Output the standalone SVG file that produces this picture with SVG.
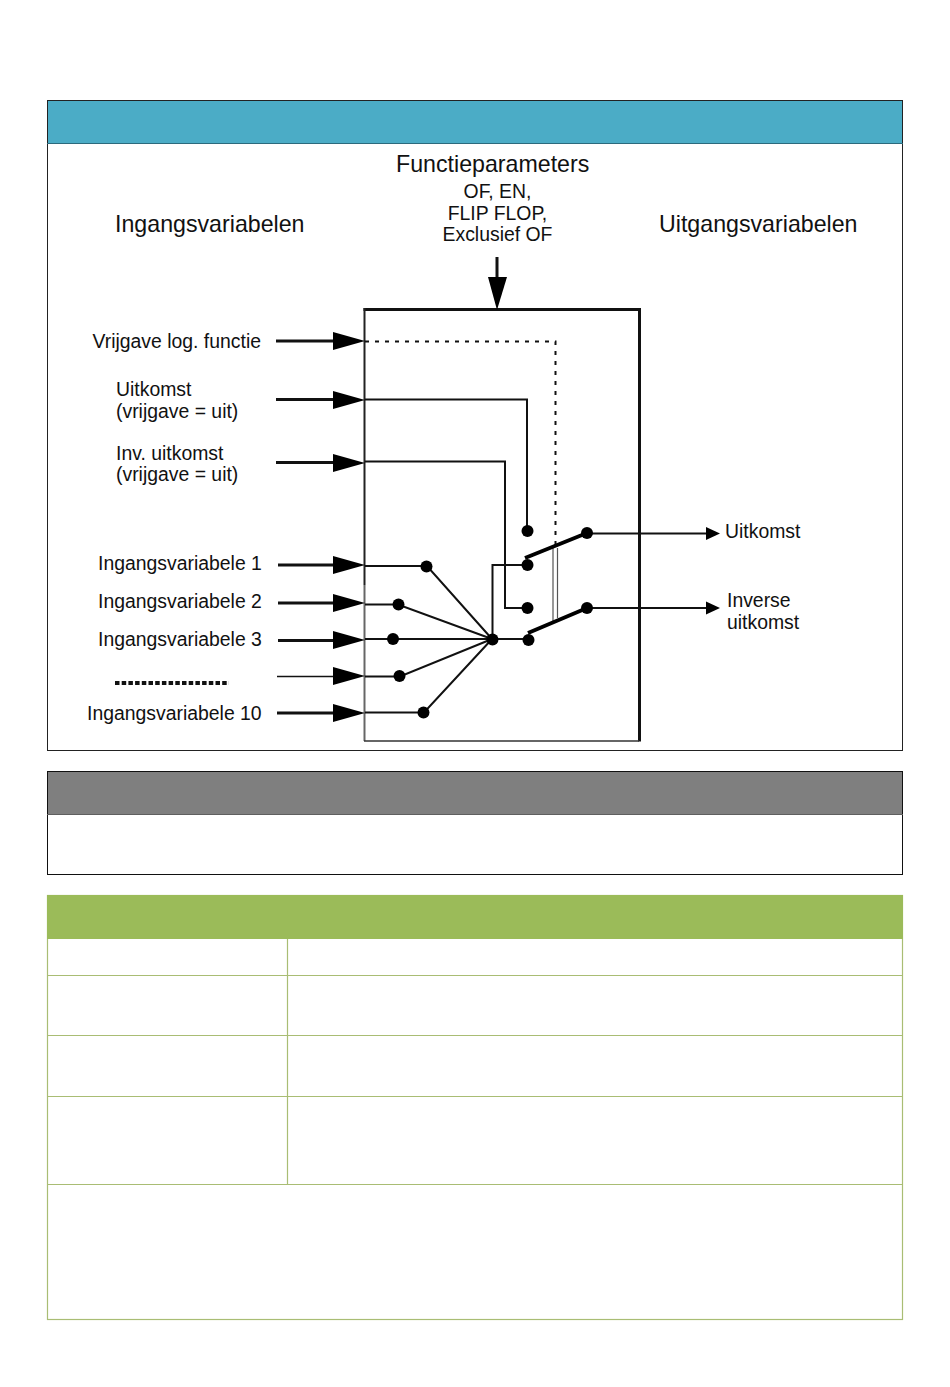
<svg xmlns="http://www.w3.org/2000/svg" width="950" height="1387" viewBox="0 0 950 1387">
<style>
text{font-family:"Liberation Sans",Arial,sans-serif;fill:#111}
.h{font-size:23.2px}.s{font-size:19.4px}
.w{fill:none;stroke:#111;stroke-width:2}
.in{fill:none;stroke:#111;stroke-width:3}
.g{stroke:#a9bd74;stroke-width:1.2;fill:none}
.d{fill:#000}
</style>
<defs>
<path id="ah" d="M-32,-9 L0,0 L-32,9 Z" fill="#000"/>
<circle id="dot" r="6" fill="#000"/>
</defs>
<rect width="950" height="1387" fill="#fff"/>
<g id="panel-top">
<rect x="47.500" y="100.500" width="855" height="650" fill="#fff" stroke="#222" stroke-width="1"/>
<rect x="48" y="101" width="854" height="42" fill="#4bacc6"/>
<line x1="47" y1="143.500" x2="903" y2="143.500" stroke="#2c6a7c" stroke-width="1.200"/>
</g>
<g id="panel-grey">
<rect x="47.500" y="771.500" width="855" height="103" fill="#fff" stroke="#111" stroke-width="1"/>
<rect x="48" y="772" width="854" height="42" fill="#7f7f7f"/>
<line x1="47" y1="814.500" x2="903" y2="814.500" stroke="#5f5f5f"/>
</g>
<g id="panel-green">
<rect x="47.500" y="895.500" width="855" height="424" fill="#fff" class="g"/>
<rect x="47" y="895" width="856" height="44" fill="#9bbb59"/>
<path class="g" d="M47.500,975.500H902.500M47.500,1035.500H902.500M47.500,1096.500H902.500M47.500,1184.500H902.500M287.500,939V1184.500"/>
</g>
<g id="block">
<path d="M363.500,309.500H639.500V741.500" fill="none" stroke="#111" stroke-width="3"/>
<path d="M364.500,308V585" fill="none" stroke="#222" stroke-width="2"/>
<path d="M364.500,585V741" fill="none" stroke="#666" stroke-width="2"/>
<path d="M364,741H639" fill="none" stroke="#333" stroke-width="1.500"/>
</g>
<g id="connectors">
<path class="in" d="M276,341H340M276,399.500H340M276,462.500H340M278,565H340M278,603H340M278,640.500H340M277,713H340"/>
<path d="M277,676.500H340" fill="none" stroke="#111" stroke-width="1.500"/>
<path d="M497,257V282" class="in"/>
<use href="#ah" x="365" y="341"/><use href="#ah" x="365" y="400"/><use href="#ah" x="365" y="463"/>
<use href="#ah" x="365" y="565"/><use href="#ah" x="365" y="603"/><use href="#ah" x="365" y="640"/>
<use href="#ah" x="365" y="676"/><use href="#ah" x="365" y="713"/>
<path d="M488,277L497,310L507,277Z" fill="#000"/>
<path d="M365,341.500H555.500V545" fill="none" stroke="#111" stroke-width="2" stroke-dasharray="4 6"/>
<path class="w" d="M365,399.500H527V531"/>
<path class="w" d="M365,461.500H505V608H528"/>
<path class="w" d="M365,566H427L492,639"/>
<path class="w" d="M365,604.500H398L492,639"/>
<path class="w" d="M365,639H492"/>
<path class="w" d="M365,676.500H400L492,639"/>
<path class="w" d="M365,712.500H424L492,639"/>
<path class="w" d="M492,639H528"/>
<path class="w" d="M492.500,639V565H528"/>
<path d="M553,548V621M557.500,548V618" fill="none" stroke="#555" stroke-width="1.200"/>
<path d="M525,558L587,533M528,633L587,608" fill="none" stroke="#000" stroke-width="4"/>
<path class="w" d="M587,533.500H708M587,608H708"/>
<path d="M706,527L720,533.500L706,540Z" class="d"/>
<path d="M706,601.500L720,608L706,614.500Z" class="d"/>
<path d="M115,683H229" fill="none" stroke="#111" stroke-width="4" stroke-dasharray="4.500 2.200"/>
</g>
<g id="dots">
<use href="#dot" x="527.500" y="531"/><use href="#dot" x="527.500" y="565"/><use href="#dot" x="527.500" y="608"/><use href="#dot" x="528.500" y="640"/>
<use href="#dot" x="587" y="533"/><use href="#dot" x="587" y="608"/>
<use href="#dot" x="426.500" y="566.500"/><use href="#dot" x="398.500" y="604.500"/><use href="#dot" x="393" y="639"/><use href="#dot" x="399.500" y="676"/><use href="#dot" x="423.500" y="712.500"/><use href="#dot" x="492.500" y="639.500"/>
</g>
<g id="labels">
<text class="h" x="396" y="172">Functieparameters</text>
<text class="s" x="497.500" y="198" text-anchor="middle">OF, EN,</text>
<text class="s" x="497.500" y="220" text-anchor="middle">FLIP FLOP,</text>
<text class="s" x="497.500" y="241" text-anchor="middle">Exclusief OF</text>
<text class="h" x="115" y="231.500">Ingangsvariabelen</text>
<text class="h" x="659" y="232">Uitgangsvariabelen</text>
<text class="s" x="92.500" y="348">Vrijgave log. functie</text>
<text class="s" x="116" y="396">Uitkomst</text>
<text class="s" x="116" y="418">(vrijgave = uit)</text>
<text class="s" x="116" y="460">Inv. uitkomst</text>
<text class="s" x="116" y="481">(vrijgave = uit)</text>
<text class="s" x="98" y="570">Ingangsvariabele 1</text>
<text class="s" x="98" y="607.500">Ingangsvariabele 2</text>
<text class="s" x="98" y="645.500">Ingangsvariabele 3</text>
<text class="s" x="87" y="720">Ingangsvariabele 10</text>
<text class="s" x="725" y="538">Uitkomst</text>
<text class="s" x="727" y="607">Inverse</text>
<text class="s" x="727" y="629">uitkomst</text>
</g>
</svg>
